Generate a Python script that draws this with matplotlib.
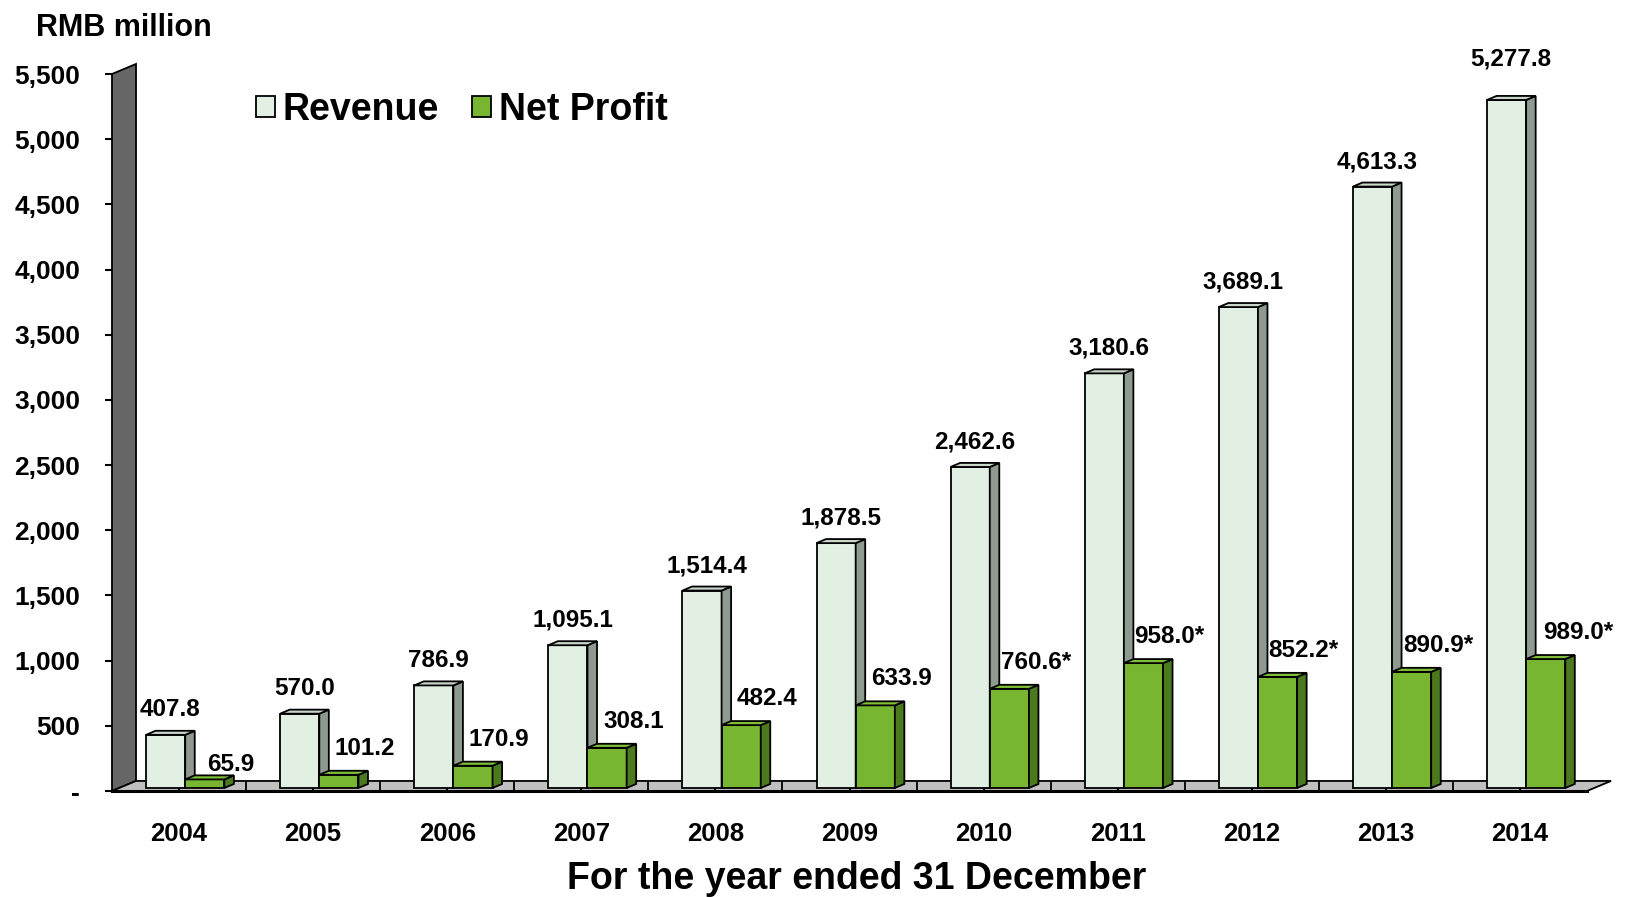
import matplotlib
matplotlib.use('Agg')
import matplotlib.pyplot as plt
from matplotlib.patches import Polygon, Patch
import numpy as np

plt.rcParams['font.family'] = ['Liberation Sans', 'DejaVu Sans']
plt.rcParams['font.weight'] = 'bold'

# data
years = ['2004', '2005', '2006', '2007', '2008', '2009', '2010', '2011', '2012', '2013', '2014']
revenue = [407.8, 570.0, 786.9, 1095.1, 1514.4, 1878.5, 2462.6, 3180.6, 3689.1, 4613.3, 5277.8]
net_profit = [65.9, 101.2, 170.9, 308.1, 482.4, 633.9, 760.6, 958.0, 852.2, 890.9, 989.0]
profit_notes = ['', '', '', '', '', '', '*', '*', '*', '*', '*']
y_ticks = [0, 500, 1000, 1500, 2000, 2500, 3000, 3500, 4000, 4500, 5000, 5500]

# colours
rev_front, rev_side, rev_top = '#E2EFE3', '#8E9A8F', '#C9D6CA'
np_front, np_side, np_top = '#78B632', '#4B7A1E', '#80BE38'
wall_col, floor_col = '#666666', '#C0C0C0'

# 3d look (data units)
bar_w = 0.292
bar_dx, bar_dy = 0.071, 31
floor_dx, floor_dy = 0.179, 77
lift = 23

fig = plt.figure(figsize=(16.27, 8.97), dpi=100)
ax = fig.add_axes([112 / 1627, 106 / 897, 1508 / 1627, 717 / 897])
x = np.arange(len(years))
ax.set_xlim(-0.5, 10.746)
ax.set_ylim(0, 5500)
for s in ax.spines.values():
    s.set_visible(False)

# wall and floor
x_left, x_right = -0.5, len(years) - 0.5
wall = Polygon([(x_left, 0), (x_left + floor_dx, floor_dy), (x_left + floor_dx, 5500 + floor_dy),
                (x_left, 5500)], closed=True, fc=wall_col, ec='black', lw=1.3, clip_on=False, zorder=1)
floor = Polygon([(x_left, 0), (x_right, 0), (x_right + floor_dx, floor_dy), (x_left + floor_dx, floor_dy)],
                closed=True, fc=floor_col, ec='black', lw=1.3, clip_on=False, zorder=1)
ax.add_patch(wall)
ax.add_patch(floor)
ax.plot([x_left, x_right], [0, 0], color='black', lw=2.2, clip_on=False, zorder=1.5)
ax.vlines(x[:-1] + 0.5, 0, floor_dy, color='black', lw=1.3, zorder=1.2)


def bar3d(x0, val, front, side, top, z):
    ax.bar(x0, val, width=bar_w, bottom=lift, align='edge', color=front,
           edgecolor='black', linewidth=1.3, zorder=z)
    b, t = lift, lift + val
    x1 = x0 + bar_w
    ax.add_patch(Polygon([(x1, b), (x1 + bar_dx, b + bar_dy), (x1 + bar_dx, t + bar_dy), (x1, t)],
                         closed=True, fc=side, ec='black', lw=1.3, zorder=z, clip_on=False))
    ax.add_patch(Polygon([(x0, t), (x0 + bar_dx, t + bar_dy), (x1 + bar_dx, t + bar_dy), (x1, t)],
                         closed=True, fc=top, ec='black', lw=1.3, zorder=z, clip_on=False))


for i in range(len(years)):
    rx = x[i] - 0.246
    px = rx + bar_w
    bar3d(rx, revenue[i], rev_front, rev_side, rev_top, 2 + i * 0.1)
    bar3d(px, net_profit[i], np_front, np_side, np_top, 2.05 + i * 0.1)

    rev_off = 29.5 if i == len(years) - 1 else 18
    ax.annotate(f'{revenue[i]:,.1f}', (rx + bar_w / 2 + bar_dx / 2, revenue[i] + lift),
                xytext=(0, rev_off), textcoords='offset points', ha='center', va='center',
                fontsize=17.5, fontweight='bold', annotation_clip=False)
    np_off = 11 if i == 0 else 19
    np_shift = 0.1 if i == len(years) - 1 else 0.05
    ax.annotate(f'{net_profit[i]:,.1f}{profit_notes[i]}', (px + bar_w + np_shift, net_profit[i] + lift),
                xytext=(0, np_off), textcoords='offset points', ha='center', va='center',
                fontsize=17.5, fontweight='bold', annotation_clip=False)

# axes ticks
ax.set_yticks(y_ticks)
ax.set_yticklabels(['-' if v == 0 else f'{v:,}' for v in y_ticks], fontsize=19, fontweight='bold')
ax.tick_params(axis='y', direction='out', length=5, width=1.5, pad=18)
ax.set_xticks(x)
ax.set_xticklabels(years, fontsize=18.5, fontweight='bold')
ax.tick_params(axis='x', direction='in', length=3.6, width=1.5, pad=22)

fig.text(36 / 1627, 1 - 28 / 897, 'RMB million', fontsize=22, fontweight='bold', va='center', ha='left')
fig.text(857 / 1627, 18 / 897, 'For the year ended 31 December', fontsize=27, fontweight='bold',
         va='center', ha='center')

handles = [Patch(fc=rev_front, ec='black', lw=1.3), Patch(fc=np_front, ec='black', lw=1.3)]
fig.legend(handles, ['Revenue', 'Net Profit'], loc='center left', bbox_to_anchor=(256 / 1627, 1 - 110 / 897),
           ncol=2, frameon=False, fontsize=27, prop={'weight': 'bold', 'size': 27}, handlelength=0.5,
           handleheight=0.5, handletextpad=0.2, columnspacing=0.9, borderpad=0, borderaxespad=0)

fig.savefig('out.png', dpi=100)
